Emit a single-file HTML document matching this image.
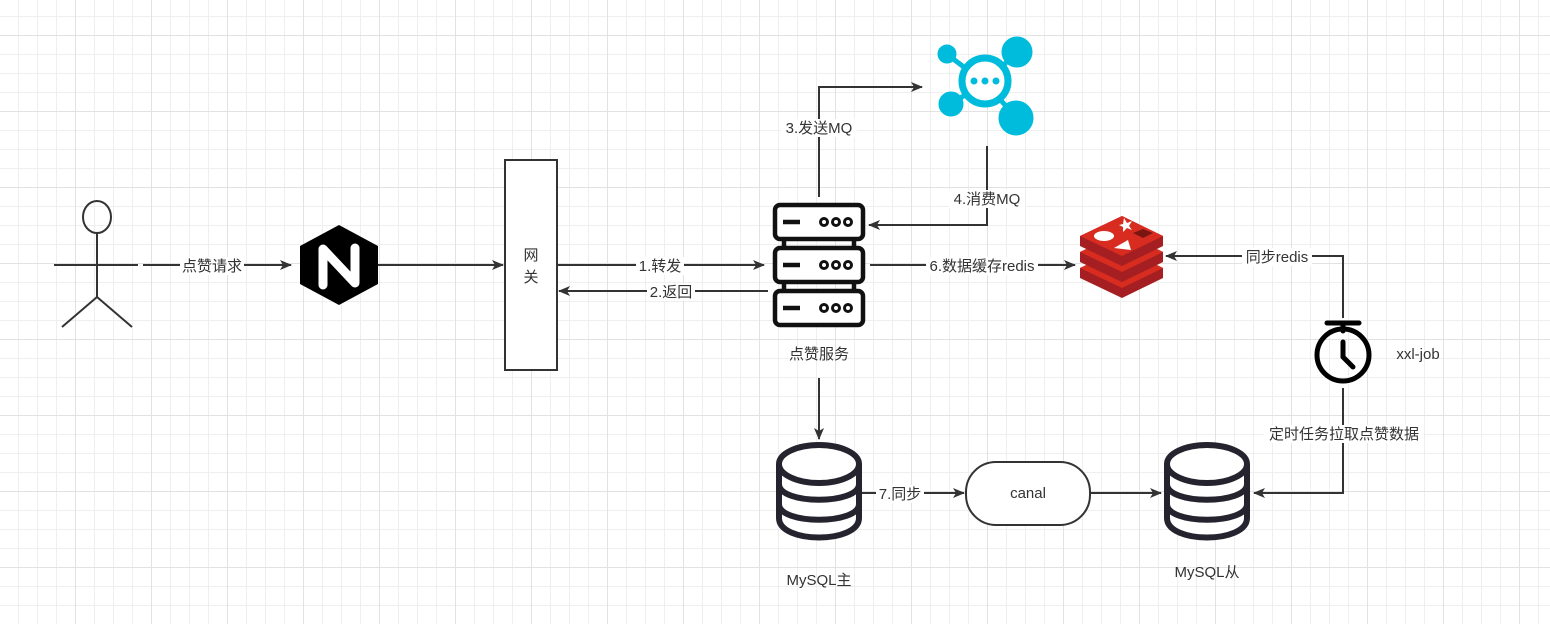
<!DOCTYPE html>
<html><head><meta charset="utf-8"><style>
html,body{margin:0;padding:0;}
body{width:1550px;height:624px;overflow:hidden;background-color:#fff;
background-image:
linear-gradient(#e2e2e2 1px,transparent 1px),
linear-gradient(90deg,#e2e2e2 1px,transparent 1px),
linear-gradient(#efefef 1px,transparent 1px),
linear-gradient(90deg,#efefef 1px,transparent 1px);
background-size:76px 76px,76px 76px,19px 19px,19px 19px;
background-position:-1px 35px,75px -1px,-1px -3px,-1px -1px;}
svg{position:absolute;left:0;top:0;}
text{font-family:"Liberation Sans","Noto Sans CJK SC",sans-serif;font-size:15px;fill:#333;}
</style></head><body>
<svg width="1550" height="624" viewBox="0 0 1550 624">
<defs>
<marker id="a" markerWidth="12" markerHeight="10" refX="11" refY="5" orient="auto" markerUnits="userSpaceOnUse">
<path d="M0,0 L12,5 L0,10 L3,5 Z" fill="#333"/></marker>
</defs>
<g stroke="#333" stroke-width="2" fill="none">
<ellipse cx="97" cy="217" rx="14" ry="16"/>
<line x1="97" y1="233" x2="97" y2="297"/>
<line x1="54" y1="265" x2="138" y2="265"/>
<line x1="97" y1="297" x2="62" y2="327"/>
<line x1="97" y1="297" x2="132" y2="327"/>
<line x1="143" y1="265" x2="291" y2="265" marker-end="url(#a)"/>
<line x1="375" y1="265" x2="503" y2="265" marker-end="url(#a)"/>
<line x1="557" y1="265" x2="764" y2="265" marker-end="url(#a)"/>
<line x1="768" y1="291" x2="559" y2="291" marker-end="url(#a)"/>
<polyline points="819,197 819,87 922,87" marker-end="url(#a)"/>
<polyline points="987,146 987,225 869,225" marker-end="url(#a)"/>
<line x1="870" y1="265" x2="1075" y2="265" marker-end="url(#a)"/>
<polyline points="1343,318 1343,256 1166,256" marker-end="url(#a)"/>
<polyline points="1343,388 1343,493 1254,493" marker-end="url(#a)"/>
<line x1="819" y1="378" x2="819" y2="439" marker-end="url(#a)"/>
<line x1="862" y1="493" x2="964" y2="493" marker-end="url(#a)"/>
<line x1="1090" y1="493" x2="1161" y2="493" marker-end="url(#a)"/>
<rect x="505" y="160" width="52" height="210" fill="#fff"/>
<rect x="966" y="462" width="124" height="63" rx="30" fill="#fff"/>
</g>
<polygon points="339,225 378,246 378,284 339,305 300,284 300,246" fill="#000"/>
<path d="M323,285 V249 L355,283 V248" stroke="#fff" stroke-width="9" fill="none" stroke-linejoin="round" stroke-linecap="round"/>
<g stroke="#111" stroke-width="4.5" fill="#fff">
<rect x="775" y="205" width="88" height="34" rx="5"/>
<rect x="775" y="248" width="88" height="34" rx="5"/>
<rect x="775" y="291" width="88" height="34" rx="5"/>
<line x1="783" y1="222" x2="800" y2="222"/><line x1="783" y1="265" x2="800" y2="265"/><line x1="783" y1="308" x2="800" y2="308"/>
<line x1="784" y1="239" x2="784" y2="248"/><line x1="854" y1="239" x2="854" y2="248"/>
<line x1="784" y1="282" x2="784" y2="291"/><line x1="854" y1="282" x2="854" y2="291"/>
</g>
<g stroke="#111" stroke-width="3" fill="#fff">
<circle cx="824" cy="222" r="3.5"/><circle cx="836" cy="222" r="3.5"/><circle cx="848" cy="222" r="3.5"/>
<circle cx="824" cy="265" r="3.5"/><circle cx="836" cy="265" r="3.5"/><circle cx="848" cy="265" r="3.5"/>
<circle cx="824" cy="308" r="3.5"/><circle cx="836" cy="308" r="3.5"/><circle cx="848" cy="308" r="3.5"/>
</g>
<g fill="#00bcdc" stroke="#00bcdc">
<line x1="985" y1="83" x2="1016" y2="53" stroke-width="5"/>
<line x1="985" y1="83" x2="1016" y2="117" stroke-width="5"/>
<line x1="985" y1="83" x2="952" y2="103" stroke-width="5"/>
<line x1="985" y1="83" x2="948" y2="55" stroke-width="5"/>
<circle cx="1017" cy="52" r="15"/><circle cx="1016" cy="118" r="17"/>
<circle cx="951" cy="104" r="12"/><circle cx="947" cy="54" r="9"/>
<circle cx="985" cy="81" r="23" fill="#fff" stroke-width="7"/>
<circle cx="974" cy="81" r="3.5" stroke="none"/><circle cx="985" cy="81" r="3.5" stroke="none"/><circle cx="996" cy="81" r="3.5" stroke="none"/>
</g>
<g>
<path d="M1080,268 L1122,248 L1163,268 V278 L1122,298 L1080,278 Z" fill="#a41e22"/>
<path d="M1080,268 L1122,288 L1163,268 L1122,248 Z" fill="#d82c20"/>
<path d="M1080,252 L1122,232 L1163,252 V262 L1122,282 L1080,262 Z" fill="#a41e22"/>
<path d="M1080,252 L1122,272 L1163,252 L1122,232 Z" fill="#d82c20"/>
<path d="M1080,236 L1122,216 L1163,236 V246 L1122,266 L1080,246 Z" fill="#a41e22"/>
<path d="M1080,236 L1122,256 L1163,236 L1122,216 Z" fill="#d82c20"/>
<ellipse cx="1104" cy="236" rx="10" ry="5" fill="#fff"/>
<polygon points="1114,248 1128,240 1131,250" fill="#fff"/>
<polygon points="1124,218 1127,223 1132,221 1129,226 1132,230 1127,228 1123,232 1123,227 1119,225 1123,224" fill="#fff"/>
<polygon points="1133,233 1143,229 1153,233 1143,238" fill="#7a1612"/>
</g>
<g stroke="#000" stroke-width="5" fill="none" stroke-linecap="round">
<line x1="1327" y1="323" x2="1359" y2="323"/>
<line x1="1343" y1="323" x2="1343" y2="331"/>
<circle cx="1343" cy="355" r="26"/>
<polyline points="1343,342 1343,357 1353,367"/>
</g>
<g stroke="#25232e" stroke-width="6" fill="#fff">
<path d="M779,464 V518 C779,544 859,544 859,518 V464"/>
<ellipse cx="819" cy="464" rx="40" ry="19"/>
<path d="M779,484 C779,505 859,505 859,484" fill="none"/>
<path d="M779,504 C779,525 859,525 859,504" fill="none"/>
<path d="M1167,464 V518 C1167,544 1247,544 1247,518 V464"/>
<ellipse cx="1207" cy="464" rx="40" ry="19"/>
<path d="M1167,484 C1167,505 1247,505 1247,484" fill="none"/>
<path d="M1167,504 C1167,525 1247,525 1247,504" fill="none"/>
</g>
<g text-anchor="middle">
<rect x="180" y="257" width="64" height="18" fill="#fff"/><text x="212" y="271">点赞请求</text>
<text x="531" y="260">网</text><text x="531" y="282">关</text>
<rect x="636" y="257" width="48" height="18" fill="#fff"/><text x="660" y="271">1.转发</text>
<rect x="647" y="283" width="48" height="18" fill="#fff"/><text x="671" y="297">2.返回</text>
<rect x="781" y="119" width="76" height="18" fill="#fff"/><text x="819" y="133">3.发送MQ</text>
<rect x="949" y="190" width="76" height="18" fill="#fff"/><text x="987" y="204">4.消费MQ</text>
<rect x="926" y="257" width="112" height="18" fill="#fff"/><text x="982" y="271">6.数据缓存redis</text>
<rect x="1242" y="248" width="70" height="18" fill="#fff"/><text x="1277" y="262">同步redis</text>
<rect x="1264" y="425" width="160" height="18" fill="#fff"/><text x="1344" y="439">定时任务拉取点赞数据</text>
<rect x="876" y="485" width="48" height="18" fill="#fff"/><text x="900" y="499">7.同步</text>
<text x="819" y="359">点赞服务</text>
<text x="1028" y="498">canal</text>
<text x="1418" y="359">xxl-job</text>
<text x="819" y="585">MySQL主</text>
<text x="1207" y="577">MySQL从</text>
</g>
</svg>
</body></html>
